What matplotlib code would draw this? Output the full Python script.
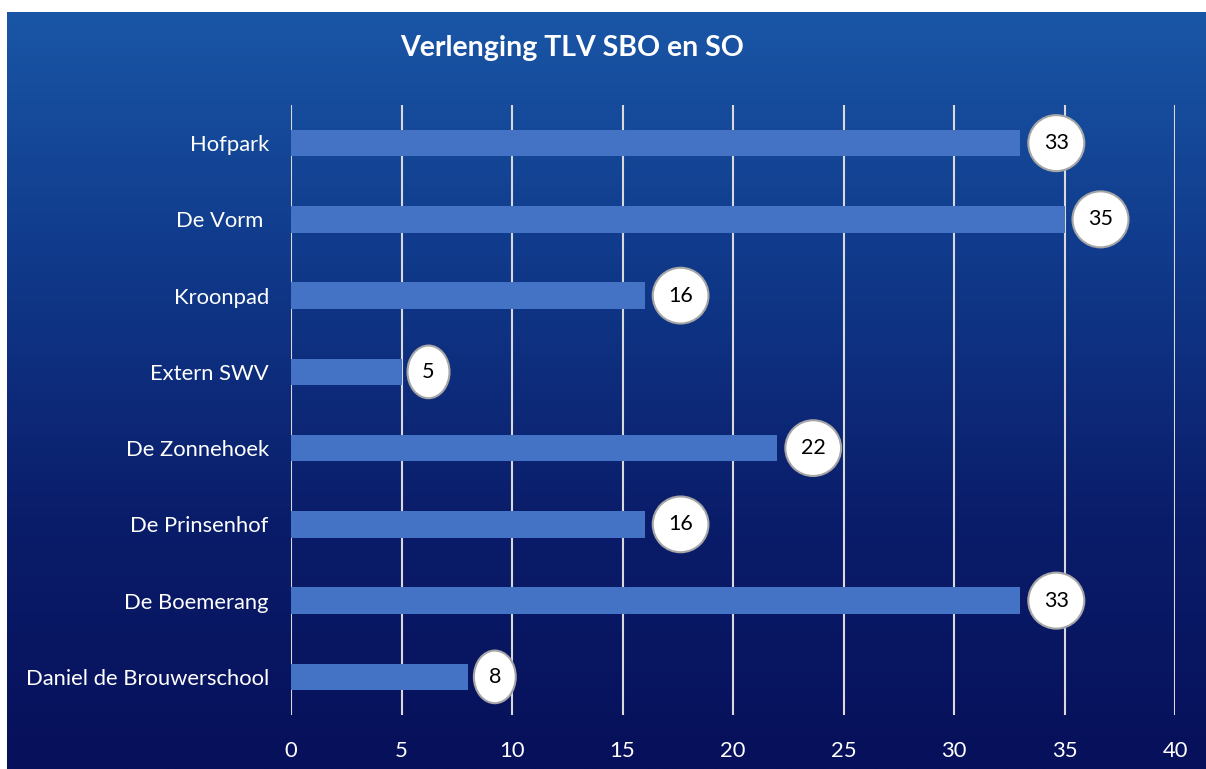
import numpy as np
import matplotlib.pyplot as plt
from matplotlib.colors import LinearSegmentedColormap

plt.rcParams['font.family'] = ['Lato', 'DejaVu Sans']

# data, top to bottom as in the chart
scholen = ['Hofpark', 'De Vorm ', 'Kroonpad', 'Extern SWV', 'De Zonnehoek',
           'De Prinsenhof', 'De Boemerang', 'Daniel de Brouwerschool']
aantallen = [33, 35, 16, 5, 22, 16, 33, 8]
xticks = [0, 5, 10, 15, 20, 25, 30, 35, 40]
titel = 'Verlenging TLV SBO en SO'

W, H = 1206, 769
fig = plt.figure(figsize=(W / 100, H / 100), dpi=100)
fig.patch.set_facecolor('white')

# blauwe achtergrond met verloop
bg = fig.add_axes([7 / W, 0, 1 - 7 / W, (H - 12) / H])
cmap = LinearSegmentedColormap.from_list('bg', ['#1a56a6', '#10398a', '#0a1d6a', '#07105a'])
grad = np.linspace(0, 1, 256).reshape(-1, 1)
bg.imshow(grad, aspect='auto', cmap=cmap, extent=[0, 1, 0, 1], origin='upper')
bg.set_axis_off()

ax = fig.add_axes([291 / W, (H - 715) / H, (1175 - 291) / W, (715 - 105) / H])
ax.set_facecolor('none')
ypos = np.arange(len(scholen))
ax.barh(ypos, aantallen, height=0.35, color='#4472c4', zorder=3)
ax.set_xlim(0, 40)
ax.set_ylim(len(scholen) - 0.5, -0.5)
ax.set_xticks(xticks)
ax.set_yticks(ypos)
ax.set_yticklabels(scholen)
ax.grid(axis='x', color='#d9d9d9', linewidth=1.5, zorder=1)
for s in ax.spines.values():
    s.set_visible(False)
ax.tick_params(axis='both', length=0, colors='white', labelsize=15.8)
ax.tick_params(axis='y', pad=16)
ax.tick_params(axis='x', pad=19)

# labels in witte bolletjes
for y, v in zip(ypos, aantallen):
    if v >= 10:
        off, stijl = 36, 'circle,pad=0.72'
    else:
        off, stijl = 27, 'ellipse,pad=0.4'
    ax.annotate(str(v), (v, y), xytext=(off, 0), textcoords='offset pixels',
                ha='center', va='center', fontsize=15.5, color='black', zorder=5,
                bbox=dict(boxstyle=stijl, fc='white', ec='#a6a6a6', lw=1.5))

fig.text(572 / W, 1 - 48 / H, titel, ha='center', va='center', color='white',
         fontsize=20.5, fontweight='bold')

fig.savefig('out.png', dpi=100)
